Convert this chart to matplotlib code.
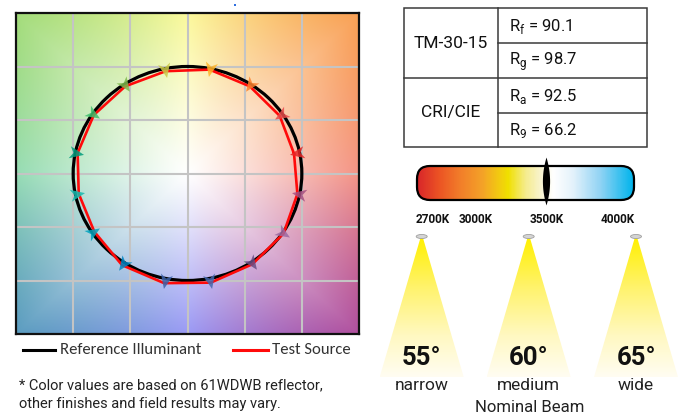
import numpy as np
import matplotlib
matplotlib.use("Agg")
import matplotlib.pyplot as plt
from matplotlib.colors import LinearSegmentedColormap, to_rgb
from matplotlib.markers import MarkerStyle
from matplotlib.patches import Circle, Ellipse, FancyBboxPatch, Polygon, Rectangle
from matplotlib.path import Path
from matplotlib.transforms import Affine2D

# ---- data ---------------------------------------------------------------
# TM-30 colour vector graphic: 16 hue bins, reference normalised to r = 1
bin_angles = np.arange(16) * 22.5 + 11.25
ref_radius = 1.0
test_radius = [0.95, 0.97, 0.98, 0.99, 0.975, 0.98, 0.985, 0.98,
               0.97, 0.98, 1.03, 1.045, 1.04, 1.02, 1.01, 0.98]
bin_colors = ["#e62828", "#e74b4b", "#fb812e", "#ffb529", "#cbca46", "#7eb94c",
              "#41c06d", "#009c7c", "#16bcb0", "#00a4bf", "#0085c3", "#3b62aa",
              "#4568ae", "#6a4e85", "#9d69a1", "#a74f81"]

group_labels = ["TM-30-15", "CRI/CIE"]
metric_subs = ["f", "g", "a", "9"]
metric_values = [90.1, 98.7, 92.5, 66.2]

cct_ticks = [2700, 3000, 3500, 4000]
cct_value = 3500

beam_degrees = [55, 60, 65]
beam_names = ["narrow", "medium", "wide"]

NARROW = ["Liberation Sans Narrow", "Roboto", "DejaVu Sans"]
CAL = ["Carlito", "Lato", "DejaVu Sans"]

fig = plt.figure(figsize=(6.8, 4.16), dpi=100)
fig.patch.set_facecolor("white")

# overlay in pixel coordinates for the infographic furniture
ov = fig.add_axes([0, 0, 1, 1])
ov.set_xlim(0, 680)
ov.set_ylim(416, 0)
ov.axis("off")

# ---- colour vector graphic ---------------------------------------------
ax = fig.add_axes([16 / 680, (416 - 334) / 416, 343 / 680, 321 / 416])
g = np.linspace(-1.5, 1.5, 400)
X, Y = np.meshgrid(g, g)
ang = np.degrees(np.arctan2(Y, X)) % 360
redge = 1.5 / np.maximum(np.abs(np.cos(np.radians(ang))), np.abs(np.sin(np.radians(ang))))
t = np.clip(np.hypot(X, Y) / redge, 0, 1) ** 1.1
anchor_ang = [0, 45, 90, 135, 180, 225, 270, 315, 360]
anchor_col = ["#f49486", "#f9a054", "#fbf99c", "#a3dc7a", "#96dcb4",
              "#5b9cc0", "#9a9af5", "#b0509e", "#f49486"]
edge = np.array([to_rgb(c) for c in anchor_col])
bg = np.ones(X.shape + (3,))
for k in range(3):
    ch = np.interp(ang, anchor_ang, edge[:, k])
    bg[..., k] = 1 - (1 - ch) * t
ax.imshow(bg, extent=(-1.5, 1.5, -1.5, 1.5), origin="lower", aspect="auto",
          interpolation="bilinear", zorder=0)
ax.set_xlim(-1.5, 1.5)
ax.set_ylim(-1.5, 1.5)
ax.set_xticks(np.arange(-1.0, 1.01, 0.5))
ax.set_yticks(np.arange(-1.0, 1.01, 0.5))
ax.tick_params(length=0, labelbottom=False, labelleft=False)
ax.grid(color="#c4c4c4", lw=1.5)
ax.set_axisbelow(True)
for s in ax.spines.values():
    s.set_linewidth(1.6)
    s.set_color("#111111")

th = np.radians(bin_angles)
tr = np.array(test_radius)
rx, ry = ref_radius * np.cos(th), ref_radius * np.sin(th)
tx, ty = tr * np.cos(th), tr * np.sin(th)
ax.add_patch(Circle((0, 0), ref_radius, fill=False, ec="black", lw=2.3, zorder=3))
ax.plot(np.r_[tx, tx[0]], np.r_[ty, ty[0]], color="#ff0a0a", lw=1.9, zorder=4)

head = Path([(1, 0), (-0.9, 0.8), (-0.4, 0), (-0.9, -0.8), (1, 0)],
            [Path.MOVETO, Path.LINETO, Path.LINETO, Path.LINETO, Path.CLOSEPOLY])
p0 = ax.transData.transform(np.c_[rx, ry])
p1 = ax.transData.transform(np.c_[tx, ty])
for i in range(16):
    d = p1[i] - p0[i]
    a = np.degrees(np.arctan2(d[1], d[0]))
    m = MarkerStyle(head, transform=Affine2D().rotate_deg(a))
    ax.plot((rx[i] + tx[i]) / 2, (ry[i] + ty[i]) / 2, marker=m, ms=11, mew=0,
            color=bin_colors[i], alpha=0.85, zorder=5)

# legend + footnote
ov.plot([23, 55], [350, 350], color="black", lw=2.2)
ov.text(60, 350, "Reference Illuminant", va="center", ha="left", fontsize=12,
        family=CAL, color="#333333")
ov.plot([233, 268], [350, 350], color="#ff0a0a", lw=2.2)
ov.text(272, 350, "Test Source", va="center", ha="left", fontsize=12,
        family=CAL, color="#333333")
ov.text(19, 385, "* Color values are based on 61WDWB reflector,", va="center",
        ha="left", fontsize=10.5, family=NARROW, color="#222222")
ov.text(19, 404, "other finishes and field results may vary.", va="center",
        ha="left", fontsize=10.5, family=NARROW, color="#222222")
ov.add_patch(Rectangle((234, 4), 2, 2, color="#2f6fe0", lw=0))

# ---- metrics table -----------------------------------------------------
lc = "#3a3a3a"
ov.add_patch(Rectangle((404, 8), 243, 139, fill=False, ec=lc, lw=1.1))
ov.plot([497.5, 497.5], [8, 147], color=lc, lw=1.1)
ov.plot([404, 647], [78, 78], color=lc, lw=1.1)
ov.plot([497.5, 647], [43, 43], color=lc, lw=1.1)
ov.plot([497.5, 647], [113, 113], color=lc, lw=1.1)
for lab, y in zip(group_labels, [44, 113]):
    ov.text(450.5, y, lab, ha="center", va="center", fontsize=12.5,
            family=NARROW, color="#111111")
for sub, val, y in zip(metric_subs, metric_values, [26.5, 61.5, 96.5, 131]):
    ov.text(509, y, r"R$_\mathregular{%s}$ = %.1f" % (sub, val), ha="left",
            va="center", fontsize=12, family=NARROW, color="#111111")

# ---- CCT bar -----------------------------------------------------------
cct_cmap = LinearSegmentedColormap.from_list("cct", [
    (0.00, "#d8262a"), (0.10, "#ec5424"), (0.20, "#f27f2a"), (0.30, "#f4a228"),
    (0.38, "#f2cc10"), (0.42, "#f0e000"), (0.50, "#f5ec8c"), (0.58, "#f9f5d8"),
    (0.63, "#ffffff"), (0.72, "#e4f2fb"), (0.85, "#8fd3f4"), (1.00, "#00b4ec")])
box = FancyBboxPatch((417, 166), 217, 34, boxstyle="round,pad=0,rounding_size=13",
                     fc="none", ec="black", lw=1.6, transform=ov.transData, zorder=3)
im = ov.imshow(np.linspace(0, 1, 300).reshape(1, -1), cmap=cct_cmap,
               extent=(417, 634, 200, 166), aspect="auto", zorder=2)
im.set_clip_path(box)
ov.add_patch(box)

bax = fig.add_axes([417 / 680, (416 - 200) / 416, 217 / 680, 34 / 416])
bax.set_xlim(2589, 4116)
bax.set_ylim(0, 1)
bax.axis("off")
yy = np.linspace(-1, 1, 41)
lens = Path(np.r_[np.c_[0.15 * (1 - yy ** 2), yy], np.c_[-0.15 * (1 - yy[::-1] ** 2), yy[::-1]]])
bax.plot(cct_value, 0.56, marker=MarkerStyle(lens), ms=34.5, color="black",
         mew=0, clip_on=False, zorder=5)
for k in cct_ticks:
    bax.text(k, -0.56, f"{k}K", ha="center", va="center", fontsize=8.5,
             fontweight="bold", family=NARROW, color="#111111")

# ---- beams -------------------------------------------------------------
beam_cmap = LinearSegmentedColormap.from_list("beam", [
    (0.0, "#fff000"), (0.35, "#fff36a"), (0.7, "#fff8c0"), (1.0, "#fffdf2")])
grad = np.linspace(0, 1, 200).reshape(-1, 1)
for xc, deg, name in zip([421.7, 528.7, 636.0], beam_degrees, beam_names):
    tri = Polygon([(xc - 1, 237), (xc + 1, 237), (xc + 42, 377), (xc - 42, 377)],
                  closed=True, transform=ov.transData)
    bim = ov.imshow(grad, cmap=beam_cmap, extent=(xc - 42, xc + 42, 377, 237),
                    origin="upper", aspect="auto", zorder=1)
    bim.set_clip_path(tri)
    ov.add_patch(Ellipse((xc, 236.5), 11, 4, fc="#d4d4d4", ec="#a0a0a0",
                         lw=0.6, zorder=3))
    ov.text(xc, 358, f"{deg}°", ha="center", va="center", fontsize=18.5,
            fontweight="bold", family=NARROW, color="#111111", zorder=4)
    ov.text(xc, 386, name, ha="center", va="center", fontsize=12.5,
            family=NARROW, color="#222222")
ov.text(530, 408, "Nominal Beam", ha="center", va="center", fontsize=12,
        family=NARROW, color="#222222")
ov.set_xlim(0, 680)
ov.set_ylim(416, 0)

fig.savefig("out.png", dpi=100, facecolor="white")
